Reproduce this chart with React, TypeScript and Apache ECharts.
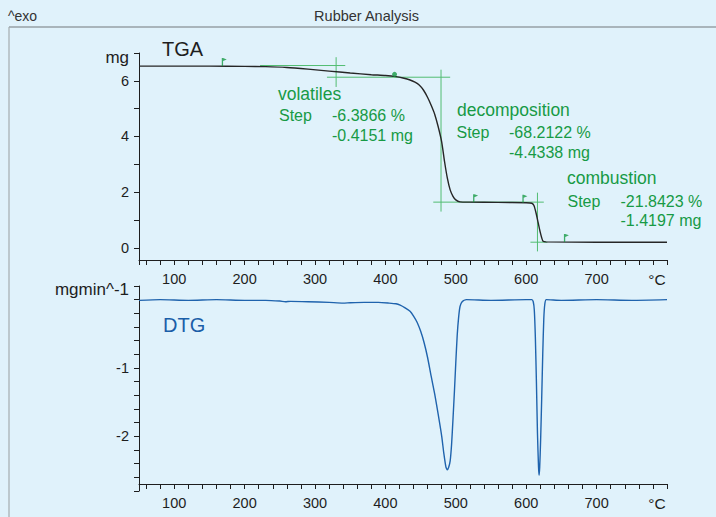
import React, { useEffect, useRef } from "react";
import * as echarts from "echarts";

// ---- TGA curve (temperature °C, mass mg)
const tgaTemp = [50, 100, 150, 200, 230, 260, 290, 320, 350, 380, 400, 415, 425, 435, 442, 448, 454, 460, 465, 470, 475, 480, 484, 488, 492, 496, 500, 506, 520, 560, 600, 608, 611, 614, 617, 620, 622, 624, 628, 700, 800];
const tgaMass = [6.53, 6.53, 6.53, 6.52, 6.51, 6.48, 6.42, 6.35, 6.28, 6.22, 6.19, 6.15, 6.10, 6.03, 5.95, 5.85, 5.67, 5.40, 5.12, 4.80, 4.35, 3.80, 3.10, 2.50, 2.08, 1.85, 1.72, 1.65, 1.64, 1.63, 1.62, 1.60, 1.52, 1.25, 0.90, 0.55, 0.36, 0.23, 0.21, 0.20, 0.20];

// ---- DTG curve (temperature °C, mg/min)
const dtgTemp = [50, 80, 120, 160, 200, 230, 250, 258, 265, 290, 320, 340, 350, 370, 390, 405, 415, 421, 428, 435, 440, 445, 450, 455, 460, 465, 470, 475, 480, 483, 486, 488, 490, 492, 494, 496, 498, 500, 502, 504, 506, 509, 515, 550, 600, 608, 610, 611.5, 613, 614.5, 616, 617.5, 618.3, 619.2, 620.5, 622, 623.5, 625, 626.5, 628.5, 650, 700, 750, 800];
const dtgRate = [-0.01, 0.0, -0.01, 0.0, -0.01, -0.01, -0.02, -0.03, -0.025, -0.03, -0.04, -0.05, -0.045, -0.04, -0.04, -0.05, -0.06, -0.08, -0.12, -0.17, -0.24, -0.33, -0.46, -0.63, -0.85, -1.12, -1.38, -1.68, -2.0, -2.25, -2.45, -2.49, -2.45, -2.36, -2.12, -1.75, -1.35, -0.92, -0.52, -0.26, -0.1, -0.03, 0.0, -0.01, 0.0, 0.0, -0.03, -0.15, -0.55, -1.2, -1.95, -2.45, -2.57, -2.45, -2.05, -1.45, -0.8, -0.28, -0.06, 0.0, -0.01, 0.0, -0.01, 0.0];

// ---- axis ticks / labels
const xTickValues = [50, 60, 80, 100, 120, 140, 160, 180, 200, 220, 240, 260, 280, 300, 320, 340, 360, 380, 400, 420, 440, 460, 480, 500, 520, 540, 560, 580, 600, 620, 640, 660, 680, 700, 720, 740, 760, 780, 800];
const xLabelValues = [100, 200, 300, 400, 500, 600, 700, 800];
const tgaTickValues = [0, 1, 2, 3, 4, 5, 6, 7];
const tgaLabelValues = [0, 2, 4, 6, 7];
const dtgTickValues = [0.2, 0, -0.2, -0.4, -0.6, -0.8, -1, -1.2, -1.4, -1.6, -1.8, -2, -2.2, -2.4, -2.6, -2.8];
const dtgLabelValues = [0.2, -1, -2];

// ---- step evaluation annotations
const stepNames = ["volatiles", "decomposition", "combustion"];
const stepPercents = ["-6.3866 %", "-68.2122 %", "-21.8423 %"];
const stepMasses = ["-0.4151 mg", "-4.4338 mg", "-1.4197 mg"];
const evalSegmentsT = [[222, 343], [330, 330], [317, 492], [479, 479], [468, 625], [616, 616], [606, 630]];
const evalSegmentsM = [[6.55, 6.55], [6.85, 5.78], [6.13, 6.13], [6.40, 1.30], [1.64, 1.64], [1.98, -0.13], [0.20, 0.20]];
const flagTemps = [169, 526, 596, 655];
const flagMasses = [6.53, 1.64, 1.62, 0.21];
const dotTemps = [413];
const dotMasses = [6.16];

const FONT = "'Liberation Sans', Arial, sans-serif";
const GREEN = "#179a45";
const GREEN_LINE = "#52bd72";
const INK = "#1e1e1e";

// text layout (positions of labels only)
const stepTextLayout = [
  { nameX: 278, nameY: 93.5, stepX: 279, valX: 332, rowY: 115.5, gap: 20.3 },
  { nameX: 457, nameY: 110, stepX: 456.5, valX: 509, rowY: 132, gap: 20.3 },
  { nameX: 567, nameY: 177.5, stepX: 567.5, valX: 620.5, rowY: 201, gap: 19.2 },
];

export default function App() {
  const ref = useRef<HTMLDivElement>(null);
  useEffect(() => {
    if (!ref.current) return;
    const chart = echarts.init(ref.current, undefined, { renderer: "svg" });

    const tgaData = tgaTemp.map((t, i) => [t, tgaMass[i]]);
    const dtgData = dtgTemp.map((t, i) => [t, dtgRate[i]]);

    const xAxisCommon = (gridIndex: number, offset: number) => ({
      type: "value",
      gridIndex,
      min: 50,
      max: 800,
      offset,
      axisLine: { show: true, onZero: false, lineStyle: { color: INK, width: 1 } },
      axisTick: { show: true, customValues: xTickValues, length: 5, lineStyle: { color: INK, width: 1 } },
      splitLine: { show: false },
      axisLabel: {
        customValues: xLabelValues,
        margin: 11,
        color: INK,
        fontSize: 14.5,
        fontFamily: FONT,
        formatter: (v: number) => (v === 800 ? "{u|°C}" : String(v)),
        rich: { u: { fontSize: 15.5, fontFamily: FONT, color: INK, padding: [0, 20, 0, 0] } },
      },
    });

    const evalSeries = evalSegmentsT.map((ts, i) => ({
      type: "line",
      xAxisIndex: 0,
      yAxisIndex: 0,
      data: [[ts[0], evalSegmentsM[i][0]], [ts[1], evalSegmentsM[i][1]]],
      showSymbol: false,
      lineStyle: { color: GREEN_LINE, width: 1 },
      silent: true,
      z: 1,
    }));

    const graphics: any[] = [
      { type: "line", shape: { x1: 9, y1: 27, x2: 716, y2: 27 }, style: { stroke: "#97a1a6", lineWidth: 1.5 } },
      { type: "line", shape: { x1: 9, y1: 27, x2: 9, y2: 517 }, style: { stroke: "#a3acb0", lineWidth: 1.2 } },
      { type: "text", x: 8, y: 16, style: { text: "^exo", fill: "#333", font: `14px ${FONT}`, textAlign: "left", textVerticalAlign: "middle" } },
      { type: "text", x: 366.5, y: 16, style: { text: "Rubber Analysis", fill: "#333", font: `14.5px ${FONT}`, textAlign: "center", textVerticalAlign: "middle" } },
      { type: "text", x: 162, y: 48.5, style: { text: "TGA", fill: INK, font: `20px ${FONT}`, textAlign: "left", textVerticalAlign: "middle" } },
      { type: "text", x: 163, y: 324.5, style: { text: "DTG", fill: "#1a5ea8", font: `20px ${FONT}`, textAlign: "left", textVerticalAlign: "middle" } },
    ];
    stepNames.forEach((name, i) => {
      const L = stepTextLayout[i];
      graphics.push(
        { type: "text", x: L.nameX, y: L.nameY, style: { text: name, fill: GREEN, font: `17.5px ${FONT}`, textAlign: "left", textVerticalAlign: "middle" } },
        { type: "text", x: L.stepX, y: L.rowY, style: { text: "Step", fill: GREEN, font: `16px ${FONT}`, textAlign: "left", textVerticalAlign: "middle" } },
        { type: "text", x: L.valX, y: L.rowY, style: { text: stepPercents[i], fill: GREEN, font: `16px ${FONT}`, textAlign: "left", textVerticalAlign: "middle" } },
        { type: "text", x: L.valX, y: L.rowY + L.gap, style: { text: stepMasses[i], fill: GREEN, font: `16px ${FONT}`, textAlign: "left", textVerticalAlign: "middle" } }
      );
    });

    chart.setOption({
      animation: false,
      backgroundColor: "#e0f2fb",
      grid: [
        { left: 139, right: 49, top: 53, height: 207 },
        { left: 139, right: 49, top: 286, height: 205 },
      ],
      xAxis: [xAxisCommon(0, 0), xAxisCommon(1, -7)],
      yAxis: [
        {
          type: "value",
          gridIndex: 0,
          min: -0.44,
          max: 7,
          axisLine: { show: true, onZero: false, lineStyle: { color: INK, width: 1 } },
          axisTick: { show: true, customValues: tgaTickValues, length: 5, lineStyle: { color: INK } },
          splitLine: { show: false },
          axisLabel: {
            customValues: tgaLabelValues,
            margin: 10,
            color: INK,
            fontSize: 14.5,
            fontFamily: FONT,
            formatter: (v: number) => (v === 7 ? "{u|mg}" : String(v)),
            rich: { u: { fontSize: 17, fontFamily: FONT, color: INK, padding: [8, 0, 0, 0] } },
          },
        },
        {
          type: "value",
          gridIndex: 1,
          min: -2.8,
          max: 0.2,
          axisLine: { show: true, onZero: false, lineStyle: { color: INK, width: 1 } },
          axisTick: { show: true, customValues: dtgTickValues, length: 5, lineStyle: { color: INK } },
          splitLine: { show: false },
          axisLabel: {
            customValues: dtgLabelValues,
            margin: 10,
            color: INK,
            fontSize: 14.5,
            fontFamily: FONT,
            formatter: (v: number) => (Math.abs(v - 0.2) < 1e-6 ? "{u|mgmin^-1}" : String(v)),
            rich: { u: { fontSize: 17, fontFamily: FONT, color: INK, padding: [6, 0, 0, 0] } },
          },
        },
      ],
      graphic: graphics,
      series: [
        ...evalSeries,
        {
          type: "line",
          xAxisIndex: 0,
          yAxisIndex: 0,
          data: tgaData,
          showSymbol: false,
          smooth: 0.2,
          lineStyle: { color: "#262626", width: 1.4 },
          z: 3,
        },
        {
          type: "scatter",
          xAxisIndex: 0,
          yAxisIndex: 0,
          data: flagTemps.map((t, i) => [t, flagMasses[i]]),
          symbol: "path://M0,0 L1.3,0 L1.3,10 L0,10 Z M1.3,0 L5,1.8 L1.3,3.8 Z",
          symbolSize: [5, 8],
          symbolOffset: [1.5, -4],
          itemStyle: { color: GREEN },
          z: 4,
        },
        {
          type: "scatter",
          xAxisIndex: 0,
          yAxisIndex: 0,
          data: dotTemps.map((t, i) => [t, dotMasses[i]]),
          symbol: "circle",
          symbolSize: 5,
          symbolOffset: [0, -2],
          itemStyle: { color: GREEN },
          z: 4,
        },
        {
          type: "line",
          xAxisIndex: 1,
          yAxisIndex: 1,
          data: dtgData,
          showSymbol: false,
          smooth: 0.2,
          lineStyle: { color: "#1f63ad", width: 1.4 },
          z: 3,
        },
      ],
    });
    return () => chart.dispose();
  }, []);

  return (
    <div
      ref={ref}
      style={{ position: "absolute", left: 0, top: 0, width: 716, height: 517, background: "#e0f2fb" }}
    />
  );
}
